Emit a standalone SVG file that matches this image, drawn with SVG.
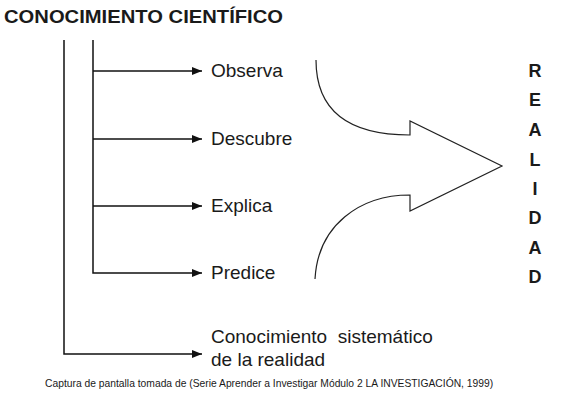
<svg xmlns="http://www.w3.org/2000/svg" width="561" height="400" viewBox="0 0 561 400">
<defs>
<marker id="ah" markerWidth="10" markerHeight="8" refX="10" refY="4" orient="auto" markerUnits="userSpaceOnUse">
<path d="M0,0 L10,4 L0,8 Z" fill="#111"/>
</marker>
<style>
.t{font-family:"Liberation Sans",Arial,sans-serif;fill:#1a1a1a}
.lbl{font-size:19px}
.ln{stroke:#111;stroke-width:1.5;fill:none}
.r{font-size:18px;font-weight:bold;text-anchor:middle}
</style>
</defs>
<rect width="561" height="400" fill="#fff"/>
<g id="title"><text class="t" x="4" y="23" font-size="19" font-weight="bold" textLength="279" lengthAdjust="spacingAndGlyphs">CONOCIMIENTO CIENTÍFICO</text></g>
<g id="connectors">
<path class="ln" d="M64,40 V354 H202" marker-end="url(#ah)"/>
<path class="ln" d="M93,40 V273 H202" marker-end="url(#ah)"/>
<path class="ln" d="M93,71 H202" marker-end="url(#ah)"/>
<path class="ln" d="M93,139 H202" marker-end="url(#ah)"/>
<path class="ln" d="M93,206 H202" marker-end="url(#ah)"/>
</g>
<g id="observa"><text class="t lbl" x="211" y="77">Observa</text></g>
<g id="descubre"><text class="t lbl" x="211" y="145">Descubre</text></g>
<g id="explica"><text class="t lbl" x="211" y="212">Explica</text></g>
<g id="predice"><text class="t lbl" x="211" y="279">Predice</text></g>
<g id="sistematico"><text class="t lbl" x="211" y="343" style="white-space:pre">Conocimiento  sistemático</text><text class="t lbl" x="211" y="366">de la realidad</text></g>
<g id="bigarrow"><path d="M316,60 C316,112 350,135 410,135 V121 L502,166 L410,211 V195 C360,195 318,225 315,279" fill="none" stroke="#222" stroke-width="1.2"/></g>
<g id="realidad">
<text class="t r" x="535" y="77">R</text>
<text class="t r" x="535" y="106">E</text>
<text class="t r" x="535" y="136">A</text>
<text class="t r" x="535" y="166">L</text>
<text class="t r" x="535" y="195">I</text>
<text class="t r" x="535" y="224">D</text>
<text class="t r" x="535" y="254">A</text>
<text class="t r" x="535" y="283">D</text>
</g>
<g id="caption"><text class="t" x="45" y="387" font-size="10.3">Captura de pantalla tomada de (Serie Aprender a Investigar Módulo 2 LA INVESTIGACIÓN, 1999)</text></g>
</svg>
